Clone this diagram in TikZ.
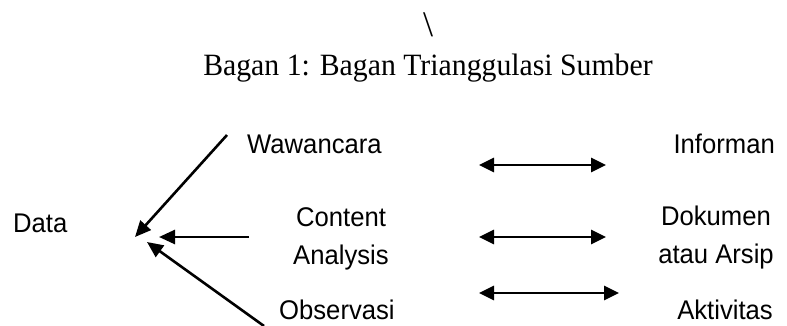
\documentclass[tikz,border=0pt]{standalone}
\usepackage{fontspec}
\setmainfont{Liberation Serif}
\newfontfamily\arialfont{Liberation Sans}
\usetikzlibrary{arrows.meta}
\newcommand{\lblone}[1]{\scalebox{0.95}[1]{#1}}
\newcommand{\lbltwo}[2]{\scalebox{0.95}[1]{\begin{tabular}{@{}c@{}}#1\\#2\end{tabular}}}
\begin{document}
\begin{tikzpicture}[x=1pt,y=-1pt,
  lbl/.style={font=\arialfont\fontsize{27}{38}\selectfont, inner sep=0pt},
  arr/.style={line width=2.6pt, -{Triangle[length=16pt,width=14pt]}},
  darr/.style={line width=2.8pt, {Triangle[length=15pt,width=14pt]}-{Triangle[length=15pt,width=14pt]}}]
\useasboundingbox (0,0) rectangle (787,325);
\node[inner sep=0pt] (bs) at (428,25) {\fontsize{36}{40}\selectfont \textbackslash};
\node[inner sep=0pt, anchor=base] (title) at (428,75) {\scalebox{0.96}[1]{\fontsize{31}{34}\selectfont Bagan 1: Bagan Trianggulasi Sumber}};
\node[lbl, anchor=base west] (data) at (13,232) {\lblone{Data}};
\node[lbl, anchor=base west] (waw) at (247,153) {\lblone{Wawancara}};
\node[lbl] (content) at (341,238) {\lbltwo{Content}{Analysis}};
\node[lbl, anchor=base west] (obs) at (279,319) {\lblone{Observasi}};
\node[lbl, anchor=base east] (inf) at (775,153) {\lblone{Informan}};
\node[lbl] (dok) at (716,237) {\lbltwo{Dokumen}{atau Arsip}};
\node[lbl, anchor=base east] (akt) at (773,319) {\lblone{Aktivitas}};
% convergence arrows
\coordinate (a1s) at (227,135);
\coordinate (a1e) at (135,237);
\coordinate (a2s) at (249,237);
\coordinate (a2e) at (159,237);
\coordinate (a3s) at (264,326);
\coordinate (a3e) at (147,242);
\draw[arr] (a1s) -- (a1e);
\draw[arr] (a2s) -- (a2e);
\draw[arr] (a3s) -- (a3e);
% double arrows
\coordinate (d1l) at (479,165);
\coordinate (d1r) at (606,165);
\coordinate (d2l) at (479,237);
\coordinate (d2r) at (606,237);
\coordinate (d3l) at (479,293);
\coordinate (d3r) at (619,293);
\draw[darr] (d1l) -- (d1r);
\draw[darr] (d2l) -- (d2r);
\draw[darr] (d3l) -- (d3r);
\end{tikzpicture}
\end{document}
